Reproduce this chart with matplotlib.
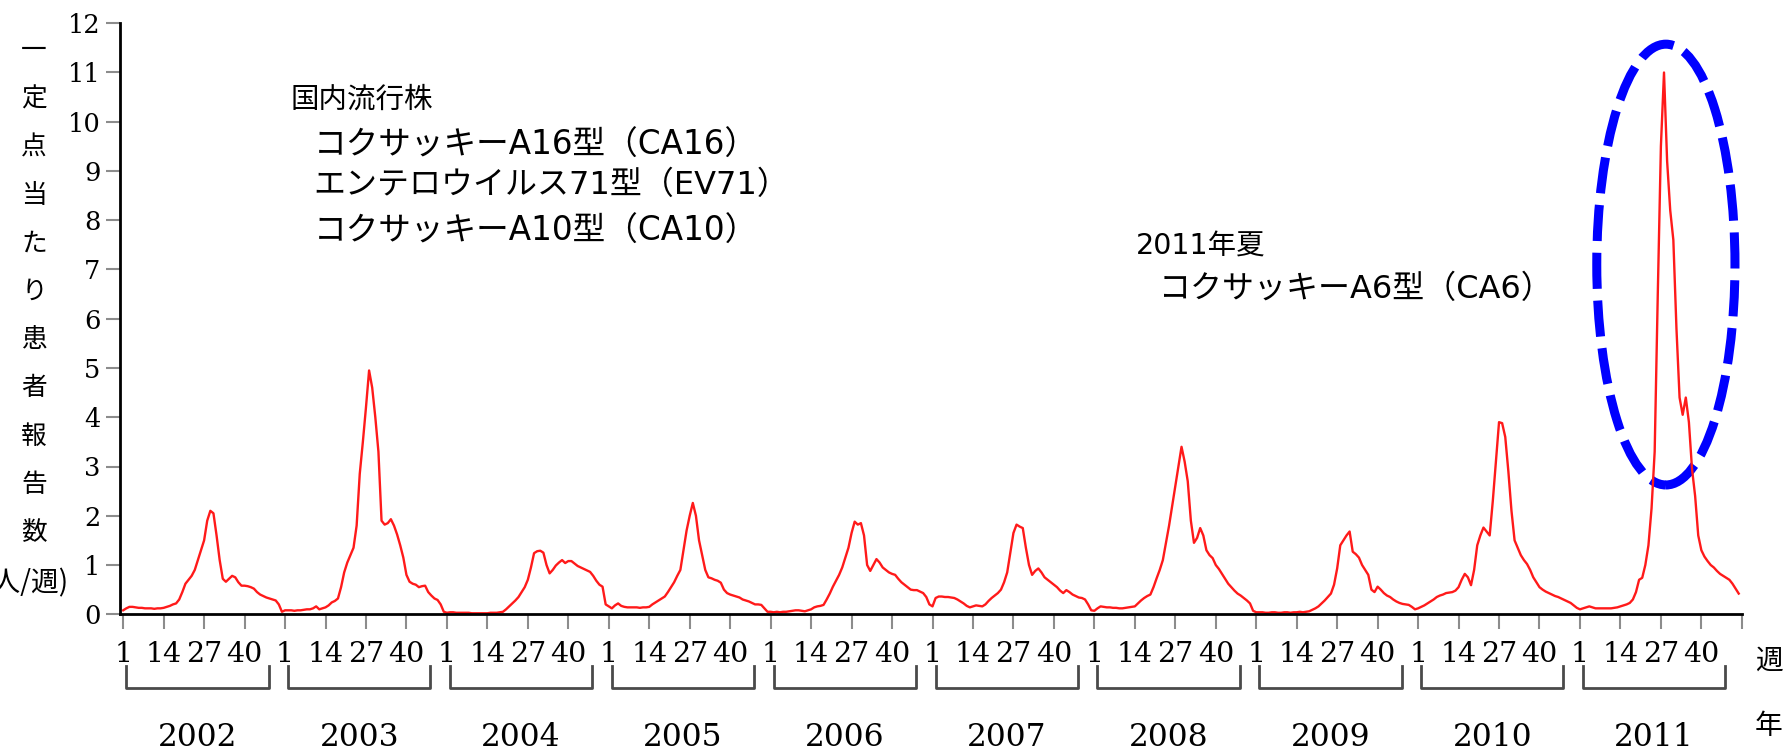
import matplotlib
matplotlib.use('Agg')
import matplotlib.pyplot as plt
import matplotlib.transforms as mtransforms
from matplotlib.patches import Ellipse
# Weekly HFMD reports per sentinel site, 2002-2011, with the 2011 CA6 peak circled.

# Data (52 weeks per year)
years = [2002, 2003, 2004, 2005, 2006, 2007, 2008, 2009, 2010, 2011]
week_labels = ['1', '14', '27', '40']

cases_2002 = [0.08, 0.12, 0.15, 0.15, 0.14, 0.13, 0.13, 0.12, 0.12, 0.12, 0.11, 0.12, 0.12,
              0.13, 0.15, 0.17, 0.2, 0.22, 0.3, 0.45, 0.62, 0.7, 0.78, 0.9, 1.1, 1.3,
              1.5, 1.9, 2.1, 2.05, 1.6, 1.1, 0.72, 0.66, 0.72, 0.78, 0.75, 0.65, 0.58,
              0.58, 0.57, 0.55, 0.52, 0.45, 0.4, 0.37, 0.34, 0.32, 0.3, 0.28, 0.2, 0.05]
cases_2003 = [0.08, 0.08, 0.08, 0.07, 0.08, 0.08, 0.09, 0.1, 0.1, 0.12, 0.16, 0.1, 0.12,
              0.14, 0.18, 0.24, 0.27, 0.32, 0.55, 0.85, 1.05, 1.2, 1.35, 1.8, 2.85, 3.5,
              4.2, 4.95, 4.6, 4.0, 3.3, 1.9, 1.82, 1.85, 1.93, 1.8, 1.62, 1.4, 1.15,
              0.8, 0.66, 0.62, 0.6, 0.55, 0.57, 0.58, 0.45, 0.38, 0.32, 0.29, 0.2, 0.05]
cases_2004 = [0.03, 0.04, 0.04, 0.03, 0.03, 0.03, 0.03, 0.03, 0.02, 0.02, 0.02, 0.02, 0.02,
              0.02, 0.03, 0.03, 0.03, 0.04, 0.05, 0.1, 0.16, 0.22, 0.28, 0.35, 0.45, 0.55,
              0.7, 0.95, 1.24, 1.28, 1.29, 1.25, 1.0, 0.83, 0.9, 0.99, 1.05, 1.1, 1.04,
              1.08, 1.08, 1.03, 0.98, 0.95, 0.92, 0.89, 0.86, 0.78, 0.68, 0.6, 0.56, 0.2]
cases_2005 = [0.16, 0.12, 0.18, 0.22, 0.17, 0.15, 0.14, 0.14, 0.14, 0.14, 0.13, 0.14, 0.14,
              0.15, 0.2, 0.24, 0.28, 0.32, 0.36, 0.45, 0.55, 0.65, 0.78, 0.9, 1.3, 1.7,
              2.0, 2.26, 2.0, 1.5, 1.2, 0.9, 0.75, 0.73, 0.7, 0.68, 0.64, 0.5, 0.43,
              0.4, 0.38, 0.36, 0.34, 0.3, 0.28, 0.26, 0.23, 0.2, 0.2, 0.19, 0.12, 0.05]
cases_2006 = [0.05, 0.04, 0.05, 0.04, 0.05, 0.05, 0.06, 0.07, 0.08, 0.08, 0.07, 0.06, 0.08,
              0.1, 0.14, 0.16, 0.17, 0.19, 0.3, 0.42, 0.56, 0.68, 0.8, 0.95, 1.15, 1.35,
              1.65, 1.88, 1.82, 1.85, 1.6, 1.0, 0.88, 1.0, 1.12, 1.05, 0.95, 0.9, 0.85,
              0.82, 0.8, 0.72, 0.65, 0.6, 0.55, 0.5, 0.49, 0.49, 0.46, 0.43, 0.35, 0.2]
cases_2007 = [0.16, 0.33, 0.36, 0.36, 0.35, 0.35, 0.34, 0.33, 0.3, 0.26, 0.22, 0.17, 0.14,
              0.16, 0.18, 0.17, 0.16, 0.2, 0.27, 0.33, 0.38, 0.43, 0.5, 0.65, 0.85, 1.25,
              1.65, 1.82, 1.78, 1.75, 1.35, 1.0, 0.8, 0.88, 0.93, 0.85, 0.75, 0.7, 0.65,
              0.6, 0.55, 0.48, 0.43, 0.49, 0.45, 0.4, 0.37, 0.34, 0.33, 0.3, 0.2, 0.08]
cases_2008 = [0.07, 0.12, 0.16, 0.15, 0.14, 0.14, 0.13, 0.13, 0.12, 0.12, 0.13, 0.14, 0.15,
              0.16, 0.22, 0.28, 0.33, 0.37, 0.4, 0.55, 0.73, 0.9, 1.1, 1.45, 1.8, 2.2,
              2.6, 3.0, 3.4, 3.1, 2.7, 1.9, 1.45, 1.55, 1.75, 1.6, 1.3, 1.2, 1.14,
              1.0, 0.92, 0.82, 0.72, 0.62, 0.55, 0.48, 0.42, 0.38, 0.33, 0.28, 0.22, 0.07]
cases_2009 = [0.04, 0.04, 0.04, 0.03, 0.03, 0.04, 0.04, 0.03, 0.03, 0.04, 0.04, 0.03, 0.04,
              0.04, 0.05, 0.04, 0.05, 0.06, 0.09, 0.12, 0.16, 0.22, 0.28, 0.35, 0.42, 0.6,
              0.93, 1.4, 1.5, 1.6, 1.68, 1.27, 1.22, 1.15, 1.0, 0.9, 0.8, 0.5, 0.45,
              0.56, 0.5, 0.43, 0.38, 0.35, 0.3, 0.26, 0.23, 0.21, 0.2, 0.19, 0.15, 0.1]
cases_2010 = [0.12, 0.15, 0.18, 0.22, 0.26, 0.3, 0.35, 0.38, 0.4, 0.43, 0.44, 0.45, 0.48,
              0.55, 0.7, 0.82, 0.75, 0.59, 0.9, 1.4, 1.6, 1.76, 1.68, 1.6, 2.3, 3.1,
              3.9, 3.88, 3.6, 2.9, 2.1, 1.5, 1.35, 1.2, 1.1, 1.02, 0.9, 0.75, 0.65,
              0.55, 0.5, 0.46, 0.43, 0.4, 0.37, 0.35, 0.32, 0.29, 0.26, 0.23, 0.18, 0.13]
cases_2011 = [0.1, 0.12, 0.14, 0.16, 0.14, 0.12, 0.12, 0.12, 0.12, 0.12, 0.12, 0.13, 0.14,
              0.16, 0.18, 0.2, 0.23, 0.3, 0.45, 0.7, 0.74, 1.0, 1.4, 2.15, 3.3, 6.5,
              9.5, 11.0, 9.2, 8.2, 7.6, 5.8, 4.4, 4.05, 4.4, 3.9, 2.95, 2.4, 1.6,
              1.3, 1.17, 1.08, 1.0, 0.95, 0.88, 0.82, 0.78, 0.74, 0.7, 0.62, 0.52, 0.42]

cases = (cases_2002 + cases_2003 + cases_2004 + cases_2005 + cases_2006 +
         cases_2007 + cases_2008 + cases_2009 + cases_2010 + cases_2011)
weeks = list(range(len(cases)))

ylabel_chars = ['一', '定', '点', '当', 'た', 'り', '患', '者', '報', '告', '数']

# Plot
fig = plt.figure(figsize=(17.92, 7.5), dpi=100)
ax = fig.add_axes([0.067, 0.181, 0.905, 0.788])

ax.plot(weeks, cases, color='#ff1a1a', linewidth=1.7)

ax.set_xlim(-1, 52 * len(years))
ax.set_ylim(0, 12)
ax.spines['top'].set_visible(False)
ax.spines['right'].set_visible(False)
ax.spines['left'].set_linewidth(2.0)
ax.spines['bottom'].set_linewidth(2.0)

xt = []
xl = []
for k in range(len(years)):
    for j, lab in enumerate(week_labels):
        xt.append(k * 52 + j * 13)
        xl.append(lab)
xt.append(52 * len(years))
xl.append('')
ax.set_xticks(xt)
ax.set_xticklabels(xl, family='DejaVu Serif', fontsize=20.5)
ax.set_yticks(range(13))
ax.set_yticklabels([str(v) for v in range(13)], family='DejaVu Serif', fontsize=18.5)
ax.tick_params(axis='x', length=11, width=1.5, color='#8c8c8c', pad=8)
ax.tick_params(axis='y', length=10, width=1.5, color='#8c8c8c', pad=4)

# year brackets
trans = mtransforms.blended_transform_factory(ax.transData, ax.transAxes)
for k, yr in enumerate(years):
    x0 = k * 52 + 1
    x1 = k * 52 + 46.7
    ax.plot([x0, x0, x1, x1], [-0.088, -0.125, -0.125, -0.088], color='#4a4a4a',
            linewidth=2.0, transform=trans, clip_on=False, solid_joinstyle='round')
    ax.text((x0 + x1) / 2, -0.208, str(yr), transform=trans, ha='center', va='center',
            family='DejaVu Serif', fontsize=22.5)

# annotations
jp = ['Noto Sans CJK JP', 'DejaVu Sans']
mix = ['DejaVu Sans', 'Noto Sans CJK JP']
ax.text(53.8, 10.45, '国内流行株', family=mix, fontsize=20.5, va='center')
ax.text(61.2, 9.53, 'コクサッキーA16型（CA16）', family=mix, fontsize=23.5, va='center')
ax.text(61.2, 8.71, 'エンテロウイルス71型（EV71）', family=mix, fontsize=23, va='center')
ax.text(61.2, 7.78, 'コクサッキーA10型（CA10）', family=mix, fontsize=23.5, va='center')
ax.text(325.4, 7.47, '2011年夏', family=mix, fontsize=20.5, va='center')
ax.text(332.8, 6.6, 'コクサッキーA6型（CA6）', family=mix, fontsize=23, va='center')

ax.add_patch(Ellipse((495.6, 7.1), 44.4, 8.95, fill=False, edgecolor='#0000ff',
                     linewidth=6.5, linestyle=(0, (4, 1.3)), clip_on=False))

# y label, one character per line
for i, ch in enumerate(ylabel_chars):
    fig.text(0.019, 1 - (51 + 48.2 * i) / 750, ch, family=jp, fontsize=18.5,
             ha='center', va='center')
fig.text(69 / 1792, 1 - 583 / 750, '(人/週)', family=jp, fontsize=20, ha='right', va='center')

fig.text(0.987, 1 - 661 / 750, '週', family=jp, fontsize=20, ha='center', va='center')
fig.text(0.987, 1 - 726 / 750, '年', family=jp, fontsize=20, ha='center', va='center')

plt.savefig('out.png', dpi=100)
